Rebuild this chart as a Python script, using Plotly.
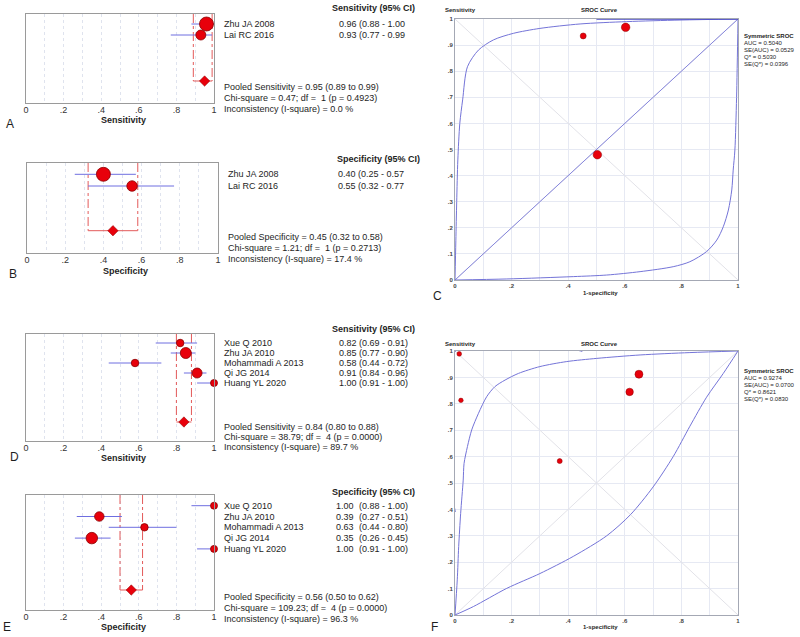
import plotly.graph_objects as go

W, H = 800, 637
FONT = "Liberation Sans, Arial, sans-serif"

# ---------------- data ----------------
a_studies = ["Zhu JA 2008", "Lai RC 2016"]
a_est = [0.96, 0.93]
a_lo = [0.88, 0.77]
a_hi = [1.00, 0.99]
a_w = [14, 10]
a_pool = [0.95, 0.89, 0.99]
a_stats = ["Pooled Sensitivity = 0.95 (0.89 to 0.99)",
           "Chi-square = 0.47; df =  1 (p = 0.4923)",
           "Inconsistency (I-square) = 0.0 %"]

b_studies = ["Zhu JA 2008", "Lai RC 2016"]
b_est = [0.40, 0.55]
b_lo = [0.25, 0.32]
b_hi = [0.57, 0.77]
b_w = [14, 10.5]
b_pool = [0.45, 0.32, 0.58]
b_stats = ["Pooled Specificity = 0.45 (0.32 to 0.58)",
           "Chi-square = 1.21; df =  1 (p = 0.2713)",
           "Inconsistency (I-square) = 17.4 %"]

d_studies = ["Xue Q 2010", "Zhu JA 2010", "Mohammadi A 2013", "Qi JG 2014", "Huang YL 2020"]
d_est = [0.82, 0.85, 0.58, 0.91, 1.00]
d_lo = [0.69, 0.77, 0.44, 0.84, 0.91]
d_hi = [0.91, 0.90, 0.72, 0.96, 1.00]
d_w = [7.5, 11, 7.5, 10, 7]
d_pool = [0.84, 0.80, 0.88]
d_stats = ["Pooled Sensitivity = 0.84 (0.80 to 0.88)",
           "Chi-square = 38.79; df =  4 (p = 0.0000)",
           "Inconsistency (I-square) = 89.7 %"]

e_studies = ["Xue Q 2010", "Zhu JA 2010", "Mohammadi A 2013", "Qi JG 2014", "Huang YL 2020"]
e_est = [1.00, 0.39, 0.63, 0.35, 1.00]
e_lo = [0.88, 0.27, 0.44, 0.26, 0.91]
e_hi = [1.00, 0.51, 0.80, 0.45, 1.00]
e_w = [7, 9.5, 7.5, 11.5, 7]
e_pool = [0.56, 0.50, 0.62]
e_stats = ["Pooled Specificity = 0.56 (0.50 to 0.62)",
           "Chi-square = 109.23; df =  4 (p = 0.0000)",
           "Inconsistency (I-square) = 96.3 %"]

# SROC C
c_fpr = [0.603, 0.453, 0.503]
c_sens = [0.968, 0.935, 0.48]
c_w = [8.5, 6, 8.5]
c_up_x = [0, 0.003, 0.006, 0.010, 0.017, 0.027, 0.044, 0.083, 0.136, 0.206, 0.30, 0.442, 0.607, 0.795, 1.0]
c_up_y = [0, 0.15, 0.30, 0.46, 0.60, 0.69, 0.817, 0.881, 0.92, 0.945, 0.964, 0.981, 0.99, 0.996, 1.0]
c_lo_x = [0, 0.183, 0.418, 0.536, 0.654, 0.771, 0.830, 0.889, 0.925, 0.948, 0.966, 0.978, 0.983, 0.989, 0.995, 1.0]
c_lo_y = [0, 0.004, 0.013, 0.019, 0.032, 0.051, 0.070, 0.109, 0.153, 0.204, 0.268, 0.345, 0.421, 0.498, 0.70, 1.0]
c_stats = ["AUC = 0.5040", "SE(AUC) = 0.0529", "Q* = 0.5030", "SE(Q*) = 0.0396"]

# SROC F
f_fpr = [0.021, 0.617, 0.37, 0.65, 0.015]
f_sens = [0.813, 0.845, 0.583, 0.912, 0.989]
f_w = [4.5, 7.5, 5, 8, 4.7]
f_up_x = [0, 0.008, 0.013, 0.020, 0.029, 0.032, 0.044, 0.059, 0.083, 0.112, 0.141, 0.177, 0.224, 0.30, 0.395, 0.501, 0.654, 0.830, 1.0]
f_up_y = [0, 0.133, 0.259, 0.385, 0.511, 0.574, 0.638, 0.701, 0.764, 0.827, 0.865, 0.890, 0.915, 0.941, 0.960, 0.972, 0.985, 0.994, 1.0]
f_lo_x = [0, 0.065, 0.183, 0.30, 0.418, 0.536, 0.62, 0.70, 0.771, 0.830, 0.889, 0.948, 1.0]
f_lo_y = [0, 0.032, 0.101, 0.157, 0.222, 0.300, 0.380, 0.485, 0.600, 0.715, 0.825, 0.915, 1.0]
f_edge_x = [0, 0, 0.45]
f_edge_y = [0.39, 1, 1]
f_stats = ["AUC = 0.9274", "SE(AUC) = 0.0700", "Q* = 0.8621", "SE(Q*) = 0.0830"]

# ---------------- helpers ----------------
def px(x):
    return x / W

def py(y):
    return 1 - y / H

RED = "#e8000b"
REDL = "#8a0000"
BLUE = "#6e6ee0"
DASH = "#e35a5a"
BORDER = "#9a9a9a"

fig = go.Figure()
ann = []

def txt(x, y, s, size=9, bold=False, anchor="left", color="#1e1e1e"):
    ann.append(dict(x=px(x), y=py(y), xref="paper", yref="paper",
                    text=f"<b>{s}</b>" if bold else s, showarrow=False,
                    xanchor=anchor, yanchor="middle", borderpad=0,
                    font=dict(family=FONT, size=size, color=color)))

layout_axes = {}

def forest(idx, studies, est, lo, hi, w, pool, stats, title, axtitle, letter, cfg):
    x0, x1, top, bot, first, sp, dia = cfg["box"]
    tidx = (top - first) / sp
    bidx = (bot - first) / sp
    didx = (dia - first) / sp
    xn, yn = f"x{idx}", f"y{idx}"
    layout_axes[f"xaxis{idx}"] = dict(
        domain=[px(x0), px(x1)], range=[0, 1], anchor=yn,
        tickvals=[i / 10 for i in range(11)],
        ticktext=["0", "", ".2", "", ".4", "", ".6", "", ".8", "", "1"],
        showgrid=True, gridcolor="#dfe3ee", griddash="dot", gridwidth=1,
        showline=True, mirror=True, linecolor=BORDER, linewidth=1,
        zeroline=False, ticks="", ticklabelstandoff=-2,
        tickfont=dict(family=FONT, size=9, color="#333"))
    layout_axes[f"yaxis{idx}"] = dict(
        domain=[py(bot), py(top)], range=[bidx, tidx], anchor=xn,
        showticklabels=False, showgrid=False, zeroline=False,
        showline=True, mirror=True, linecolor=BORDER, linewidth=1)
    n = len(studies)
    # pooled dashed lines + bracket
    fig.add_trace(go.Scatter(x=[pool[1], pool[1], None, pool[2], pool[2]],
                             y=[tidx, didx, None, tidx, didx], mode="lines",
                             line=dict(color=DASH, width=1, dash="dashdot"),
                             xaxis=xn, yaxis=yn, hoverinfo="skip", showlegend=False))
    fig.add_trace(go.Scatter(x=[pool[1], pool[2]], y=[didx, didx], mode="lines",
                             line=dict(color=DASH, width=1),
                             xaxis=xn, yaxis=yn, hoverinfo="skip", showlegend=False))
    # CI lines
    cx, cy = [], []
    for i in range(n):
        cx += [lo[i], hi[i], None]
        cy += [i, i, None]
    fig.add_trace(go.Scatter(x=cx, y=cy, mode="lines", line=dict(color=BLUE, width=1),
                             xaxis=xn, yaxis=yn, hoverinfo="skip", showlegend=False,
                             cliponaxis=False))
    fig.add_trace(go.Scatter(x=est, y=list(range(n)), mode="markers",
                             marker=dict(size=w, color=RED, opacity=1,
                                         line=dict(color=REDL, width=0.8)),
                             xaxis=xn, yaxis=yn, showlegend=False, cliponaxis=False))
    fig.add_trace(go.Scatter(x=[pool[0]], y=[didx], mode="markers",
                             marker=dict(size=8, symbol="diamond", color=RED, opacity=1,
                                         line=dict(color=REDL, width=0.5)),
                             xaxis=xn, yaxis=yn, showlegend=False, cliponaxis=False))
    # texts
    txt(cfg["title_x"], cfg["title_y"], title, bold=True)
    for i in range(n):
        yy = first + i * sp
        txt(cfg["lab_x"], yy, studies[i])
        txt(cfg["val_x"], yy, f"{est[i]:.2f}")
        close = ")" if cfg["close"] else ""
        txt(cfg["ci_x"], yy, f"({lo[i]:.2f} - {hi[i]:.2f}{close}")
    for s, yy in zip(stats, cfg["stats_y"]):
        txt(cfg["lab_x"], yy, s)
    txt(cfg["axt"][0], cfg["axt"][1], axtitle, bold=True, anchor="center")
    txt(cfg["let"][0], cfg["let"][1], letter, size=12, anchor="center")


def sroc(idx, fpr, sens, w, curves, stats, cfg):
    x0, x1, top, bot = cfg["box"]
    xn, yn = f"x{idx}", f"y{idx}"
    layout_axes[f"xaxis{idx}"] = dict(
        domain=[px(x0), px(x1)], range=[0, 1], anchor=yn,
        tickvals=[i / 10 for i in range(11)],
        ticktext=["<b>0</b>", "", "<b>.2</b>", "", "<b>.4</b>", "", "<b>.6</b>", "", "<b>.8</b>", "", "<b>1</b>"],
        showgrid=True, gridcolor="#e6e9f3", gridwidth=1,
        showline=True, mirror=True, linecolor="#a4a8b4", linewidth=1,
        zeroline=False, ticks="", tickfont=dict(family=FONT, size=6, color="#444"))
    layout_axes[f"yaxis{idx}"] = dict(
        domain=[py(bot), py(top)], range=[0, 1], anchor=xn,
        tickvals=[i / 10 for i in range(11)],
        ticktext=["<b>0</b>"] + [f"<b>.{i}</b>" for i in range(1, 10)] + ["<b>1</b>"],
        showgrid=True, gridcolor="#e6e9f3", gridwidth=1,
        showline=True, mirror=True, linecolor="#a4a8b4", linewidth=1,
        zeroline=False, ticks="", tickfont=dict(family=FONT, size=6, color="#444"))
    # faint diagonals
    fig.add_trace(go.Scatter(x=[0, 1, None, 0, 1], y=[0, 1, None, 1, 0], mode="lines",
                             line=dict(color="#e2e2e8", width=1), xaxis=xn, yaxis=yn,
                             hoverinfo="skip", showlegend=False))
    for cxv, cyv, col, wd in curves:
        fig.add_trace(go.Scatter(x=cxv, y=cyv, mode="lines", line=dict(color=col, width=wd, shape="spline", smoothing=0.8),
                                 xaxis=xn, yaxis=yn, hoverinfo="skip", showlegend=False, cliponaxis=False))
    fig.add_trace(go.Scatter(x=fpr, y=sens, mode="markers",
                             marker=dict(size=w, color=RED, opacity=1,
                                         line=dict(color=REDL, width=0.5)),
                             xaxis=xn, yaxis=yn, showlegend=False, cliponaxis=False))
    txt(444, cfg["top_y"], "Sensitivity", size=6, bold=True)
    txt(599, cfg["top_y"], "SROC Curve", size=6, bold=True, anchor="center")
    txt(600, cfg["xt_y"], "1-specificity", size=6, bold=True, anchor="center")
    txt(743, cfg["st_y"], "Symmetric SROC", size=6, bold=True)
    for k, s in enumerate(stats):
        txt(743, cfg["st_y"] + 7 * (k + 1), s, size=6)
    txt(cfg["let"][0], cfg["let"][1], cfg["letter"], size=12, anchor="center")


forest(1, a_studies, a_est, a_lo, a_hi, a_w, a_pool, a_stats,
       "Sensitivity (95% CI)", "Sensitivity", "A",
       dict(box=(26, 214, 14, 103, 24, 11, 81), title_x=331, title_y=8, lab_x=223,
            val_x=338, ci_x=358, close=False, stats_y=[87.5, 98, 108.5], axt=(123, 119.5), let=(10, 124)))
forest(2, b_studies, b_est, b_lo, b_hi, b_w, b_pool, b_stats,
       "Specificity (95% CI)", "Specificity", "B",
       dict(box=(27, 218, 163, 253, 174.3, 11.7, 230.7), title_x=336, title_y=159, lab_x=226.5,
            val_x=337.3, ci_x=356.7, close=False, stats_y=[237, 248, 259], axt=(125, 271), let=(13, 274)))
forest(4, d_studies, d_est, d_lo, d_hi, d_w, d_pool, d_stats,
       "Sensitivity (95% CI)", "Sensitivity", "D",
       dict(box=(26, 214, 334, 441, 343, 10, 422), title_x=331, title_y=329, lab_x=222.7,
            val_x=338, ci_x=358.3, close=True, stats_y=[427, 437, 447], axt=(123, 457.5), let=(14, 457)))
forest(5, e_studies, e_est, e_lo, e_hi, e_w, e_pool, e_stats,
       "Specificity (95% CI)", "Specificity", "E",
       dict(box=(26, 214, 495, 610, 505.7, 10.8, 590), title_x=331, title_y=492, lab_x=222.7,
            val_x=335, ci_x=357.7, close=True, stats_y=[597, 608, 619], axt=(123, 626.5), let=(7, 627)))

sroc(3, c_fpr, c_sens, c_w,
     [([0, 1], [0, 1], "#8585dc", 1),
      (c_up_x, c_up_y, "#7474d8", 1),
      (c_lo_x, c_lo_y, "#7474d8", 1),
      ([0.5, 1], [1, 1], "#4a4ac4", 1.3)],
     c_stats,
     dict(box=(455, 738, 19, 280), top_y=10, xt_y=293, st_y=36, let=(437, 296), letter="C"))
sroc(6, f_fpr, f_sens, f_w,
     [(f_up_x, f_up_y, "#7474d8", 1),
      (f_lo_x, f_lo_y, "#7474d8", 1),
      (f_edge_x, f_edge_y, "#4a4ac4", 1.3)],
     f_stats,
     dict(box=(455, 738, 351, 615), top_y=344, xt_y=627, st_y=370.5, let=(434, 627), letter="F"))

fig.update_layout(width=W, height=H, margin=dict(l=0, r=0, t=0, b=0, autoexpand=False),
                  paper_bgcolor="white", plot_bgcolor="white",
                  showlegend=False, annotations=ann, **layout_axes)

fig.write_html("out.html", config={"displayModeBar": False},
               post_script="document.body.style.margin='0';document.body.style.overflow='hidden';")
